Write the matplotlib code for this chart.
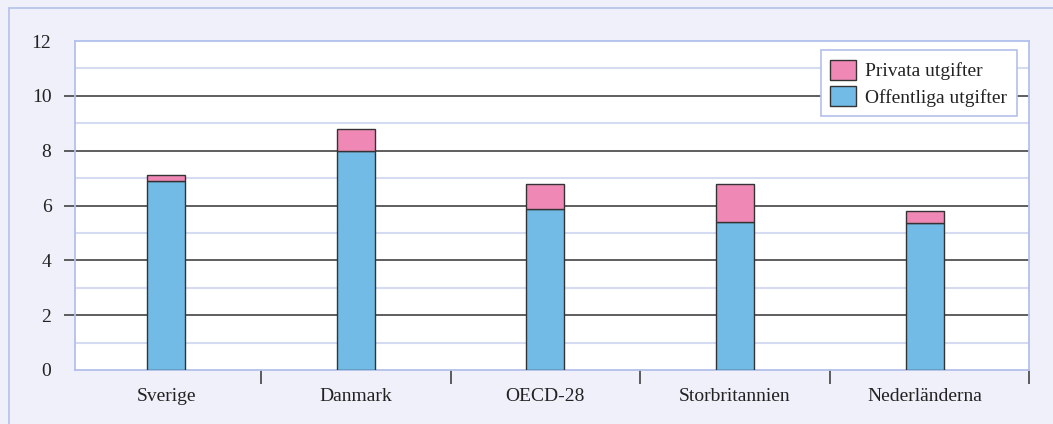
import matplotlib.pyplot as plt
import matplotlib.patches as patches
import numpy as np

countries = ["Sverige", "Danmark", "OECD-28", "Storbritannien", "Nederländerna"]
offentliga = [6.88, 7.97, 5.88, 5.38, 5.35]
privata = [0.25, 0.81, 0.92, 1.42, 0.46]

plt.rcParams['font.family'] = ['Liberation Serif', 'DejaVu Serif']

bg = '#eff0f9'
border = '#b3c0ea'
blue = '#72bbe6'
pink = '#f088b6'

fig = plt.figure(figsize=(10.53, 4.24), dpi=100, facecolor=bg)
ax = fig.add_axes([75/1053, 1 - 370/424, (1029-75)/1053, (370-41)/424])
ax.set_facecolor('white')

# outer frame (top and left edges visible)
fig.patches.append(patches.Rectangle((9/1053, -0.1), 1.2, 1.1 - 8/424,
                                     transform=fig.transFigure, fill=False,
                                     edgecolor=border, lw=1.2))

x = np.arange(len(countries))
w = 0.2
ax.bar(x, offentliga, w, color=blue, edgecolor='#333333', lw=1.0, zorder=3,
       label='Offentliga utgifter')
ax.bar(x, privata, w, bottom=offentliga, color=pink, edgecolor='#333333', lw=1.0,
       zorder=3, label='Privata utgifter')

ax.set_xlim(-0.48, 4.55)
ax.set_ylim(0, 12)

# grid lines
for v in [1, 3, 5, 7, 9, 11]:
    ax.axhline(v, color='#d5dbf1', lw=1.5, zorder=1)
for v in [2, 4, 6, 8, 10]:
    ax.axhline(v, color='#333333', lw=1.1, zorder=2)

ax.set_yticks(range(0, 13, 2))
ax.tick_params(axis='y', length=8, width=1.1, color='#333333', pad=9,
               labelsize=14, labelcolor='#222222')
yt = ax.yaxis.get_major_ticks()
yt[0].tick1line.set_visible(False)
yt[-1].tick1line.set_visible(False)

ax.set_xticks(x)
ax.set_xticklabels(countries)
ax.tick_params(axis='x', which='major', length=0, pad=13, labelsize=14,
               labelcolor='#222222')
ax.set_xticks([0.5, 1.5, 2.5, 3.5, 4.55], minor=True)
ax.tick_params(axis='x', which='minor', length=10, width=1.1, color='#333333')

for s in ax.spines.values():
    s.set_color(border)
    s.set_linewidth(1.3)

h, l = ax.get_legend_handles_labels()
leg = ax.legend(h[::-1], l[::-1], loc='upper right', bbox_to_anchor=(0.9874, 0.9726),
                fancybox=False, framealpha=1, edgecolor=border, fontsize=14,
                handlelength=1.3, handleheight=1.2, borderpad=0.5, labelspacing=0.3,
                handletextpad=0.5, borderaxespad=0)
leg.get_frame().set_linewidth(1.2)
for t in leg.get_texts():
    t.set_color('#222222')

fig.savefig('out.png', dpi=100, facecolor=bg)
